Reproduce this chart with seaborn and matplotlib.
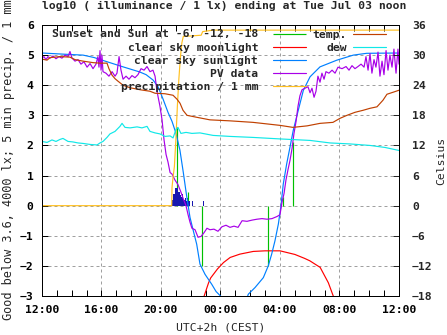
import matplotlib
matplotlib.use("Agg")
import matplotlib.pyplot as plt
import seaborn as sns

sns.set_theme(style="white")
plt.rcParams["font.family"] = ["DejaVu Sans Mono"]
plt.rcParams["font.weight"] = "bold"
plt.rcParams["font.size"] = 8.2

# time axis: hours after 12:00 of the previous day
tick_hours = [0, 4, 8, 12, 16, 20, 24]
tick_labels = ["12:00", "16:00", "20:00", "00:00", "04:00", "08:00", "12:00"]

# sun events (sunset, -6, -12 deg, ... sunrise): time and clear-sky log10 lux
event_h = [9.05, 9.83, 10.75, 15.2, 16.17, 16.87]
event_v = [2.6, 0.45, -2.0, -2.0, 0.3, 2.1]

# clear sky moonlight, log10 lux
moon_h = [10.8, 10.9, 11.2, 11.34, 11.8, 12.2, 12.65, 13.3, 14.2, 15.0, 16.0,
          17.0, 17.65, 18.0, 18.7, 19.25, 19.58, 19.65]
moon_v = [-3.15, -3.0, -2.56, -2.4, -2.1, -1.89, -1.72, -1.61, -1.52, -1.5, -1.5,
          -1.62, -1.75, -1.83, -2.05, -2.56, -3.0, -3.15]

# clear sky sunlight, log10 lux
sun_h = [0.0, 1.5, 2.76, 3.5, 4.37, 5.45, 6.57, 7.0, 7.47, 7.8, 8.13, 8.47, 8.74,
         9.01, 9.27, 9.5, 9.73, 9.95, 10.17, 10.4, 10.62, 10.96, 11.41, 11.7, 12.0,
         12.4, 13.6, 13.87, 14.32, 14.88, 15.21, 15.44, 15.66, 15.89, 16.05, 16.22,
         16.45, 16.67, 16.89, 17.23, 17.57, 18.02, 18.69, 19.81, 20.93, 21.83, 24.0]
sun_v = [5.07, 5.03, 5.0, 4.92, 4.78, 4.61, 4.44, 4.35, 4.17, 3.95, 3.55, 3.1, 2.8,
         2.4, 1.85, 1.1, 0.3, -0.39, -0.83, -1.28, -1.94, -2.28, -2.61, -2.85, -3.0,
         -3.3, -3.3, -2.94, -2.72, -2.39, -2.0, -1.61, -1.17, -0.61, -0.06, 0.72,
         1.39, 1.94, 2.5, 3.17, 3.83, 4.28, 4.61, 4.83, 5.0, 5.06, 5.07]

# measured PV sensor, log10 lux
pv_h = [0.0, 0.13, 0.27, 0.4, 0.54, 0.74, 0.94, 1.14, 1.34, 1.55, 1.75, 1.88, 2.02,
        2.22, 2.42, 2.62, 2.82, 3.03, 3.23, 3.43, 3.63, 3.76, 3.83, 3.9, 3.97, 4.03,
        4.1, 4.3, 4.5, 4.71, 4.91, 5.04, 5.18, 5.31, 5.45, 5.65, 5.85, 6.05, 6.25,
        6.45, 6.66, 6.86, 7.06, 7.26, 7.46, 7.6, 7.73, 7.93, 8.07, 8.2, 8.34, 8.47,
        8.61, 8.74, 8.94, 9.14, 9.34, 9.48, 9.68, 9.82, 9.95, 10.08, 10.29, 10.49,
        10.69, 10.89, 11.09, 11.29, 11.56, 11.83, 12.1, 12.37, 12.64, 12.91, 13.18,
        13.45, 13.78, 14.12, 14.45, 14.79, 15.13, 15.46, 15.8, 16.0, 16.13, 16.27,
        16.4, 16.54, 16.67, 16.81, 16.94, 17.08, 17.21, 17.34, 17.48, 17.68, 17.88,
        18.02, 18.15, 18.29, 18.42, 18.55, 18.69, 18.82, 18.96, 19.09, 19.29, 19.5,
        19.7, 19.9, 20.17, 20.44, 20.64, 20.84, 21.04, 21.24, 21.45, 21.65, 21.78,
        21.92, 22.05, 22.18, 22.32, 22.45, 22.59, 22.72, 22.86, 22.99, 23.13, 23.26,
        23.39, 23.53, 23.66, 23.8, 23.93, 24.0]
pv_v = [4.9, 4.95, 4.85, 4.95, 4.9, 4.97, 4.88, 4.95, 4.9, 5.0, 4.95, 5.12, 4.9,
        4.8, 4.85, 4.7, 4.78, 4.6, 4.72, 4.55, 4.7, 4.95, 4.6, 5.15, 4.5, 5.0,
        4.45, 4.4, 4.3, 4.45, 4.3, 4.4, 4.95, 4.5, 4.2, 4.3, 4.2, 4.32, 4.25,
        4.35, 4.55, 4.5, 4.62, 4.45, 4.5, 4.3, 3.8, 3.3, 2.85, 2.2, 1.7, 1.45,
        1.1, 1.05, 0.85, 0.7, 0.45, 0.25, 0.0, -0.3, -0.55, -0.75, -0.8, -1.05,
        -1.02, -0.9, -0.75, -0.8, -0.78, -0.85, -0.7, -0.65, -0.72, -0.68, -0.72,
        -0.5, -0.52, -0.48, -0.45, -0.43, -0.45, -0.43, -0.36, -0.3, 0.1, 0.4,
        0.85, 1.2, 1.5, 1.9, 2.4, 2.8, 3.3, 3.65, 3.85, 3.9, 3.95,
        3.75, 3.9, 3.6, 3.8, 4.3, 4.1, 4.4, 4.2, 4.45, 4.4, 4.5,
        4.4, 4.6, 4.55, 4.62, 4.5, 4.65, 4.55, 4.62, 4.7, 4.6, 4.95,
        4.5, 5.05, 4.4, 4.85, 4.6, 5.1, 4.3, 4.8, 4.35, 5.15, 4.5,
        5.0, 4.6, 5.2, 4.4, 5.2, 4.7]

# accumulated precipitation, mm
rain_h = [0.0, 8.72, 8.74, 8.8, 8.9, 9.0, 9.1, 9.2, 9.3, 9.4, 9.5, 10.7, 10.8, 11.5, 24.0]
rain_v = [0.0, 0.0, 0.6, 0.9, 1.3, 2.2, 3.3, 4.2, 4.9, 5.4, 5.62, 5.66, 5.78, 5.83, 5.83]

# 5 minute precipitation, mm
rain5_t = ["20:45", "20:50", "20:55", "21:00", "21:05", "21:10", "21:15", "21:20",
           "21:25", "21:30", "21:35", "21:40", "21:45", "21:50", "22:05", "22:50"]
rain5_v = [0.2, 0.4, 0.6, 0.6, 0.6, 0.45, 0.35, 0.3, 0.4, 0.2, 0.25, 0.15, 0.25,
           0.15, 0.15, 0.15]

# air temperature and dew point, Celsius
temp_h = [0.0, 0.34, 0.54, 1.21, 1.88, 2.22, 2.76, 3.43, 3.9, 4.37, 4.5, 4.71, 4.91,
          5.11, 5.45, 5.92, 6.59, 7.26, 7.6, 8.27, 8.81, 9.08, 9.28, 9.48, 9.75,
          10.42, 11.29, 12.64, 14.18, 16.0, 16.87, 17.82, 18.69, 19.56, 20.03, 20.5,
          21.04, 21.58, 22.05, 22.52, 22.92, 23.19, 23.6, 24.0]
temp_c = [29.2, 29.0, 29.5, 29.7, 29.6, 29.1, 28.8, 28.5, 28.4, 28.4, 27.3, 26.0,
          25.3, 24.8, 24.0, 23.5, 23.1, 22.8, 22.4, 22.3, 22.0, 21.2, 20.4, 19.0,
          18.0, 17.6, 17.1, 16.9, 16.6, 16.0, 15.6, 15.9, 16.4, 16.6, 17.4, 18.0,
          18.6, 19.0, 19.4, 19.7, 21.0, 22.2, 22.6, 23.0]

dew_h = [0.0, 0.34, 0.67, 0.94, 1.21, 1.41, 1.75, 2.08, 2.42, 2.76, 3.23, 3.7, 3.9,
         4.1, 4.37, 4.57, 4.91, 5.24, 5.38, 5.58, 5.92, 6.39, 6.72, 7.06, 7.26, 7.6,
         7.93, 8.27, 8.61, 8.81, 9.01, 9.14, 9.34, 9.68, 10.08, 10.62, 11.5, 12.64,
         14.18, 16.0, 18.02, 19.36, 20.71, 22.05, 23.06, 24.0]
dew_c = [12.8, 12.6, 13.1, 12.8, 13.2, 13.4, 12.8, 12.7, 12.5, 12.4, 12.2, 12.1,
         12.5, 12.8, 13.6, 14.3, 14.8, 15.8, 16.4, 15.6, 15.5, 15.7, 15.5, 15.8,
         14.8, 14.5, 14.3, 13.8, 13.9, 13.5, 15.2, 15.6, 14.4, 14.6, 14.4, 14.5,
         14.0, 13.8, 13.6, 13.3, 13.0, 12.5, 12.3, 12.0, 11.6, 11.0]


def hours_after_noon(clock):
    hh, mm = (int(p) for p in clock.split(":"))
    h = hh + mm / 60.0 - 12.0
    return h if h >= 0 else h + 24.0


W, H = 447, 335
LW = 0.85
fig = plt.figure(figsize=(W / 100, H / 100), dpi=100)
ax = fig.add_axes([42 / W, 1 - 296 / H, 357 / W, 271 / H])
ax2 = ax.twinx()

ax.set_xlim(0, 24)
ax.set_ylim(-3, 6)
ax2.set_ylim(-18, 36)

ax.grid(True, which="major", color="#a0a0a0", linestyle=(0, (3, 3)), lw=0.72)
ax.set_axisbelow(True)

ev = ax.vlines(event_h, 0, event_v, colors="#00c000", lw=LW, zorder=2,
               label="Sunset and Sun at -6, -12, -18")
ax.bar([hours_after_noon(t) for t in rain5_t], rain5_v, width=5 / 60,
       align="edge", color="#1818b0", lw=0, zorder=2.2)

sns.lineplot(x=moon_h, y=moon_v, ax=ax, color="#ff0000", lw=LW, sort=False,
             estimator=None, label="clear sky moonlight", zorder=3)
sns.lineplot(x=sun_h, y=sun_v, ax=ax, color="#0080ff", lw=LW, sort=False,
             estimator=None, label="clear sky sunlight", zorder=3)
sns.lineplot(x=pv_h, y=pv_v, ax=ax, color="#a800e8", lw=LW, sort=False,
             estimator=None, label="PV data", zorder=3)
sns.lineplot(x=rain_h, y=rain_v, ax=ax, color="#ffc020", lw=LW, sort=False,
             estimator=None, label="precipitation / 1 mm", zorder=3)
if ax.get_legend():
    ax.get_legend().remove()

sns.lineplot(x=temp_h, y=temp_c, ax=ax2, color="#c04000", lw=LW, sort=False,
             estimator=None, label="temp.")
sns.lineplot(x=dew_h, y=dew_c, ax=ax2, color="#10e8e8", lw=LW, sort=False,
             estimator=None, label="dew")
if ax2.get_legend():
    ax2.get_legend().remove()

# ticks
ax.set_xticks(tick_hours)
ax.set_xticklabels(tick_labels)
ax.set_xticks(range(25), minor=True)
ax.set_yticks(range(-3, 7))
ax2.set_yticks(range(-18, 37, 6))
ax.tick_params(which="both", direction="in", top=True, bottom=True, left=True,
               right=False, length=4, width=0.72, colors="black", labelsize=8.2)
ax.tick_params(axis="y", pad=6.0)
ax.tick_params(axis="x", pad=6.5)
ax2.tick_params(direction="in", length=4, width=0.72, labelsize=8.2, pad=9.4,
                right=True)
for a in (ax, ax2):
    for s in a.spines.values():
        s.set_color("black")
        s.set_linewidth(0.72)

ax.set_xlabel("UTC+2h (CEST)", fontsize=8.2)
ax.xaxis.set_label_coords(0.5, -(323 - 296) / 271)
ax.xaxis.label.set_va("top")
ax.set_ylabel("Good below 3.6, 4000 lx; 5 min precip. / 1 mm", fontsize=8.55)
ax.yaxis.set_label_coords((15 - 42) / 357, (296 - 159.5) / 271)
ax2.set_ylabel("Celsius", fontsize=8.2)
ax2.yaxis.set_label_coords((436 - 42) / 357, 0.5)
ax.set_title("log10 ( illuminance / 1 lx) ending at Tue Jul 03 noon",
             fontsize=8.2, x=(224 - 42) / 357, pad=11.5, fontweight="bold")

# legend: two columns, text right-aligned in front of the sample line
h1, l1 = ax.get_legend_handles_labels()
order = ["Sunset and Sun at -6, -12, -18", "clear sky moonlight",
         "clear sky sunlight", "PV data", "precipitation / 1 mm"]
hmap = dict(zip(l1, h1))
h2, l2 = ax2.get_legend_handles_labels()
common = dict(frameon=False, markerfirst=False, handlelength=2.9,
              borderpad=0, borderaxespad=0, labelspacing=0.27,
              fontsize=8.2, bbox_transform=fig.transFigure, loc="upper right")
leg1 = ax2.legend([hmap[k] for k in order], order, handletextpad=1.3,
                  bbox_to_anchor=(306 / W, 1 - 29.5 / H), **common)
ax2.add_artist(leg1)
leg2 = ax2.legend(h2, l2, handletextpad=0.55,
                  bbox_to_anchor=(386 / W, 1 - 29.5 / H), **common)

fig.savefig("out.png", dpi=100)
